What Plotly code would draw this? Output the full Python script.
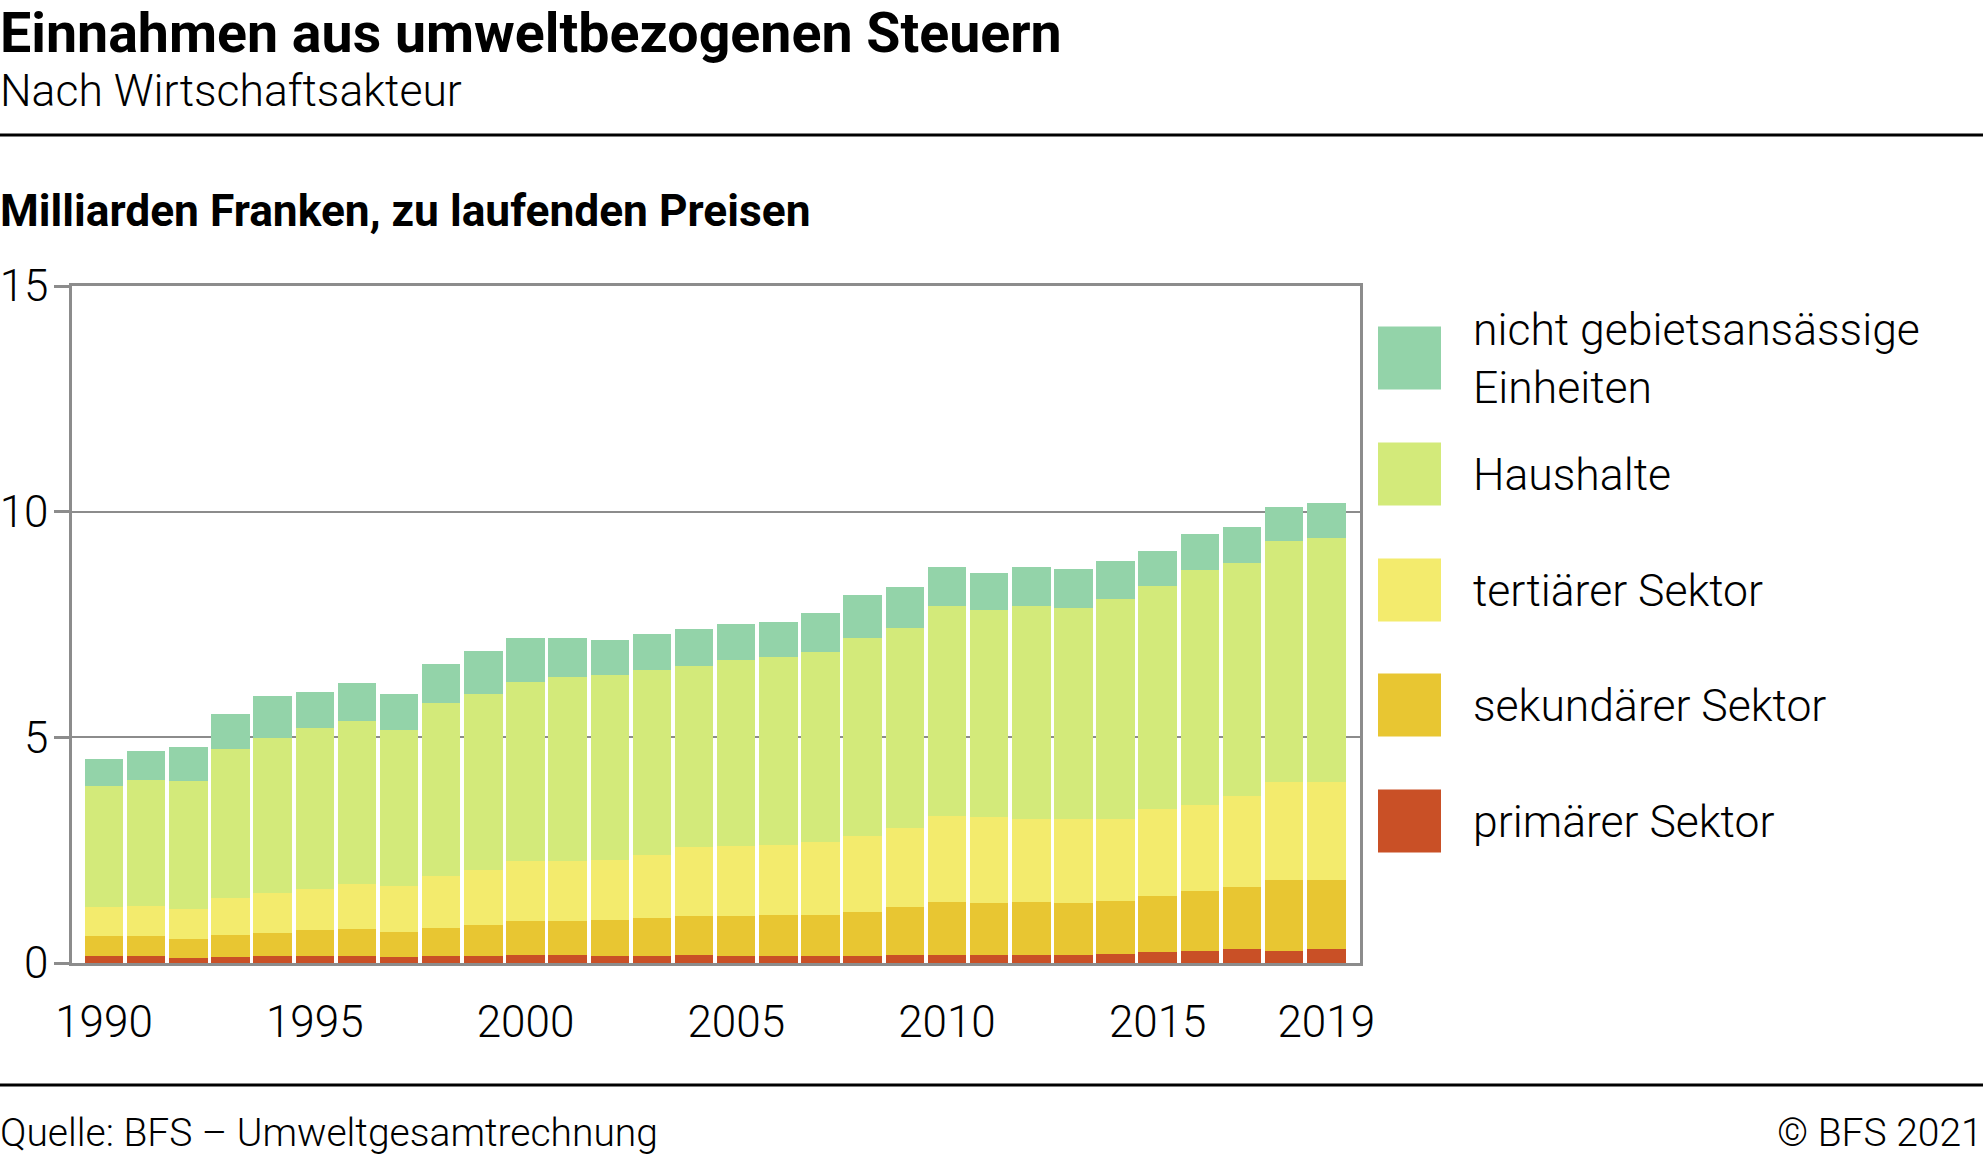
import plotly.graph_objects as go

years = list(range(1990, 2020))
primaer = [0.16, 0.16, 0.12, 0.14, 0.16, 0.16, 0.16, 0.14, 0.16, 0.16,
           0.18, 0.18, 0.16, 0.16, 0.18, 0.16, 0.16, 0.16, 0.16, 0.18,
           0.18, 0.18, 0.18, 0.18, 0.21, 0.25, 0.27, 0.30, 0.27, 0.30]
sekundaer = [0.43, 0.43, 0.42, 0.49, 0.51, 0.58, 0.60, 0.55, 0.62, 0.69,
             0.76, 0.76, 0.80, 0.84, 0.87, 0.89, 0.91, 0.91, 0.98, 1.07,
             1.18, 1.16, 1.18, 1.16, 1.17, 1.24, 1.33, 1.39, 1.58, 1.55]
tertiaer = [0.64, 0.68, 0.66, 0.80, 0.87, 0.91, 1.00, 1.02, 1.15, 1.22,
            1.31, 1.31, 1.33, 1.40, 1.53, 1.55, 1.55, 1.60, 1.68, 1.75,
            1.90, 1.90, 1.84, 1.84, 1.80, 1.93, 1.91, 2.00, 2.15, 2.15]
haushalte = [2.70, 2.79, 2.84, 3.32, 3.45, 3.56, 3.61, 3.46, 3.84, 3.90,
             3.98, 4.09, 4.10, 4.10, 4.01, 4.12, 4.15, 4.21, 4.37, 4.43,
             4.64, 4.59, 4.70, 4.69, 4.89, 4.94, 5.19, 5.17, 5.36, 5.42]
nicht_ansaessig = [0.58, 0.64, 0.75, 0.77, 0.93, 0.80, 0.84, 0.80, 0.86, 0.95,
                   0.96, 0.87, 0.77, 0.80, 0.82, 0.80, 0.79, 0.88, 0.97, 0.91,
                   0.88, 0.82, 0.88, 0.87, 0.84, 0.77, 0.80, 0.79, 0.75, 0.78]

series_names = ["primärer Sektor", "sekundärer Sektor", "tertiärer Sektor",
                "Haushalte", "nicht gebietsansässige<br>Einheiten"]
series_values = [primaer, sekundaer, tertiaer, haushalte, nicht_ansaessig]
series_colors = ["#C95026", "#E8C632", "#F3EB6D", "#D3EA7A", "#93D3A9"]

x_tickvals = [1990, 1995, 2000, 2005, 2010, 2015, 2019]
y_tickvals = [0, 5, 10, 15]

title = "Einnahmen aus umweltbezogenen Steuern"
subtitle = "Nach Wirtschaftsakteur"
unit_label = "Milliarden Franken, zu laufenden Preisen"
source = "Quelle: BFS – Umweltgesamtrechnung"
copyright_txt = "© BFS 2021"

W, H = 1983, 1161
L, R, T, B = 72, 1360, 286, 963
GRAY = "#8C8C8C"
FONT = "Roboto"


def px(x):
    return (x - L) / (R - L)


def py(y):
    return (B - y) / (B - T)


fig = go.Figure()
for name, vals, col in zip(series_names, series_values, series_colors):
    fig.add_trace(go.Bar(x=years, y=vals, name=name.replace("<br>", " "),
                         marker=dict(color=col, line=dict(width=0)),
                         showlegend=False))

shapes = []
annotations = []

# horizontal rules
for yy in (135, 1085):
    shapes.append(dict(type="line", xref="paper", yref="paper",
                       x0=px(0), x1=px(W), y0=py(yy), y1=py(yy),
                       line=dict(color="#000000", width=3)))


def add_text(text, x, y, size, weight, xanchor="left"):
    annotations.append(dict(text=text, x=px(x), y=py(y),
                            xref="paper", yref="paper", xanchor=xanchor,
                            yanchor="middle", align="left", showarrow=False,
                            borderpad=0,
                            font=dict(family=FONT, size=size, color="#000",
                                      weight=weight)))


add_text(f"<b>{title}</b>", -1, 33, 55.5, 700)
add_text(subtitle, -1, 91, 44.5, 300)
add_text(f"<b>{unit_label}</b>", -1, 211, 44.3, 700)
add_text(source, -1, 1133, 39, 300)
add_text(copyright_txt, W + 1, 1133, 39, 300, xanchor="right")

# custom legend (top to bottom: reverse of stacking order)
legend_centers = [358, 474, 590, 705, 821]
for i, idx in enumerate(range(len(series_names) - 1, -1, -1)):
    cy = legend_centers[i]
    shapes.append(dict(type="rect", xref="paper", yref="paper",
                       x0=px(1378), x1=px(1441), y0=py(cy - 31.5), y1=py(cy + 31.5),
                       fillcolor=series_colors[idx], line=dict(width=0)))
    add_text(series_names[idx], 1472, cy + 1, 44.5, 300)

fig.update_layout(
    width=W, height=H,
    margin=dict(l=L, r=W - R, t=T, b=H - B, pad=0),
    barmode="stack", bargap=0.086,
    plot_bgcolor="white", paper_bgcolor="white",
    font=dict(family=FONT, color="#000"),
    shapes=shapes, annotations=annotations,
    showlegend=False,
)
fig.update_xaxes(range=[1989.24, 2019.8], tickvals=x_tickvals,
                 ticktext=[str(v) for v in x_tickvals],
                 showgrid=False, zeroline=False, automargin=False,
                 showline=True, linecolor=GRAY, linewidth=2.5, mirror=True,
                 ticks="", ticklabelstandoff=18,
                 tickfont=dict(family=FONT, size=44, color="#000", weight=300))
fig.update_yaxes(range=[0, 15], tickvals=y_tickvals,
                 showgrid=True, gridcolor=GRAY, gridwidth=2, zeroline=False,
                 automargin=False,
                 showline=True, linecolor=GRAY, linewidth=2.5, mirror=True,
                 ticks="outside", ticklen=15, tickwidth=2.5, tickcolor=GRAY,
                 ticklabelstandoff=-3,
                 tickfont=dict(family=FONT, size=44, color="#000", weight=300))

fig.write_html(
    "out.html",
    config={"displayModeBar": False},
    post_script="document.body.style.margin='0';"
                "document.body.style.padding='0';"
                "document.body.style.overflow='hidden';"
                "document.documentElement.style.overflow='hidden';",
)
